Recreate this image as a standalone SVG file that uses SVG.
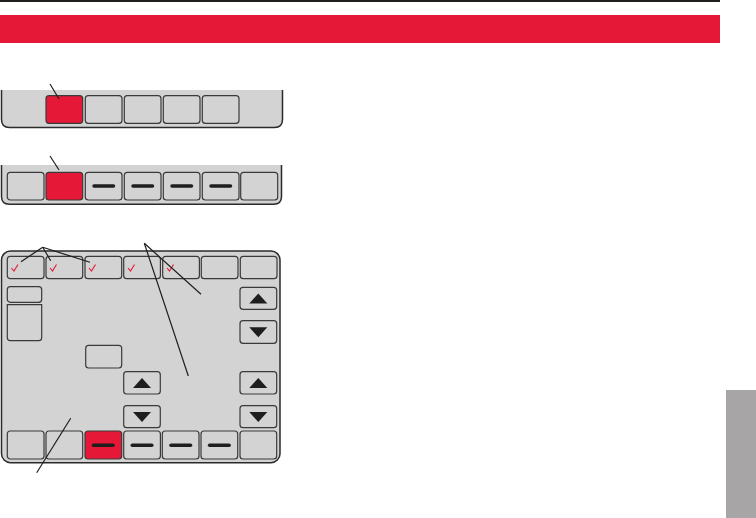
<svg xmlns="http://www.w3.org/2000/svg" width="756" height="518" viewBox="0 0 756 518">
<defs>
<style>
.panel{fill:#d3d3d3;stroke:#2b2b2b;stroke-width:1.5}
.btn{fill:#d3d3d3;stroke:#3a3a3a;stroke-width:1.2}
.red{fill:#e51937;stroke:#3a3a3a;stroke-width:1.2}
.dash{stroke:#1e1e1e;stroke-width:3.5;stroke-linecap:round}
.chk{fill:none;stroke:#e51937;stroke-width:1.1}
.tri{fill:#1e1e1e}
.lead{stroke:#1e1e1e;stroke-width:1.2;fill:none}
</style>
<path id="up" d="M-9,5 L9,5 L0,-5 Z"/>
<path id="dn" d="M-9,-5 L9,-5 L0,5 Z"/>
<path id="ck" d="M-2.5,0.5 L0,3.5 L4,-3"/>
</defs>
<rect x="0" y="0" width="720" height="2" fill="#1e1e1e"/>
<rect x="0" y="15" width="720" height="28" fill="#e51937"/>
<rect x="726" y="390" width="30" height="128" fill="#a7a5a5"/>

<g id="panel1">
<path class="panel" d="M1.5,90 V119.5 Q1.5,127.5 9.5,127.5 H274.5 Q282.5,127.5 282.5,119.5 V90"/>
<rect class="red" x="46" y="95.7" width="36.7" height="27.6" rx="3"/>
<rect class="btn" x="85.3" y="95.7" width="36.7" height="27.6" rx="3"/>
<rect class="btn" x="124.3" y="95.7" width="36.7" height="27.6" rx="3"/>
<rect class="btn" x="163.3" y="95.7" width="36.7" height="27.6" rx="3"/>
<rect class="btn" x="202.3" y="95.7" width="36.7" height="27.6" rx="3"/>
</g>

<g id="panel2">
<path class="panel" d="M1.5,165 V196.5 Q1.5,204.3 9.5,204.3 H273.5 Q281.5,204.3 281.5,196.5 V165"/>
<rect class="btn" x="7.3" y="172.3" width="36.7" height="27.7" rx="3"/>
<rect class="red" x="46" y="172.3" width="36.7" height="27.7" rx="3"/>
<rect class="btn" x="85.3" y="172.3" width="36.7" height="27.7" rx="3"/>
<rect class="btn" x="124.3" y="172.3" width="36.7" height="27.7" rx="3"/>
<rect class="btn" x="163.3" y="172.3" width="36.7" height="27.7" rx="3"/>
<rect class="btn" x="202.3" y="172.3" width="36.7" height="27.7" rx="3"/>
<rect class="btn" x="240.7" y="172.3" width="37" height="27.7" rx="3"/>
<line class="dash" x1="94" y1="186" x2="113.5" y2="186"/>
<line class="dash" x1="133" y1="186" x2="152.5" y2="186"/>
<line class="dash" x1="172" y1="186" x2="191.5" y2="186"/>
<line class="dash" x1="211" y1="186" x2="230.5" y2="186"/>
</g>

<g id="panel3">
<rect class="panel" x="1.5" y="251" width="278.5" height="211.7" rx="9"/>
<rect class="btn" x="7.3" y="256.3" width="36.7" height="22.4" rx="3"/>
<rect class="btn" x="46" y="256.3" width="36.7" height="22.4" rx="3"/>
<rect class="btn" x="85" y="256.3" width="36.7" height="22.4" rx="3"/>
<rect class="btn" x="123.7" y="256.3" width="36.7" height="22.4" rx="3"/>
<rect class="btn" x="162.7" y="256.3" width="36.7" height="22.4" rx="3"/>
<rect class="btn" x="201.3" y="256.3" width="36.7" height="22.4" rx="3"/>
<rect class="btn" x="240.3" y="256.3" width="36.7" height="22.4" rx="3"/>
<use href="#ck" class="chk" x="14" y="267.5"/>
<use href="#ck" class="chk" x="52.5" y="267.5"/>
<use href="#ck" class="chk" x="91.5" y="267.5"/>
<use href="#ck" class="chk" x="130.5" y="267.5"/>
<use href="#ck" class="chk" x="169.5" y="267.5"/>
<rect class="btn" x="7.3" y="286.7" width="34.4" height="15.6" rx="3"/>
<path class="btn" d="M7.3,304.7 H41.7 V337.7 Q41.7,340.7 38.7,340.7 H10.3 Q7.3,340.7 7.3,337.7 Z"/>
<rect class="btn" x="85.7" y="345.3" width="36" height="22.7" rx="3"/>
<rect class="btn" x="240" y="287.3" width="36.7" height="22" rx="3"/>
<use href="#up" class="tri" x="258.3" y="298.5"/>
<rect class="btn" x="240" y="320.7" width="36.7" height="22.6" rx="3"/>
<use href="#dn" class="tri" x="258.3" y="332.2"/>
<rect class="btn" x="123.7" y="371.7" width="36.6" height="22.3" rx="3"/>
<use href="#up" class="tri" x="142" y="383"/>
<rect class="btn" x="123.7" y="405.7" width="36.6" height="22" rx="3"/>
<use href="#dn" class="tri" x="142" y="417"/>
<rect class="btn" x="240" y="371.7" width="36.7" height="22.3" rx="3"/>
<use href="#up" class="tri" x="258.3" y="383"/>
<rect class="btn" x="240" y="405.7" width="36.7" height="22" rx="3"/>
<use href="#dn" class="tri" x="258.3" y="417"/>
<rect class="btn" x="7.3" y="431" width="36.7" height="28" rx="3"/>
<rect class="btn" x="46" y="431" width="36.7" height="28" rx="3"/>
<rect class="red" x="85" y="431" width="36.7" height="28" rx="3"/>
<rect class="btn" x="123.7" y="431" width="36.7" height="28" rx="3"/>
<rect class="btn" x="162.3" y="431" width="36.7" height="28" rx="3"/>
<rect class="btn" x="201" y="431" width="36.7" height="28" rx="3"/>
<rect class="btn" x="240" y="431" width="36.7" height="28" rx="3"/>
<line class="dash" x1="93.5" y1="445.3" x2="113" y2="445.3"/>
<line class="dash" x1="132.3" y1="445.3" x2="151.8" y2="445.3"/>
<line class="dash" x1="171" y1="445.3" x2="190.5" y2="445.3"/>
<line class="dash" x1="209.6" y1="445.3" x2="229.1" y2="445.3"/>
</g>

<g id="connectors">
<line class="lead" x1="50" y1="84" x2="59" y2="99"/>
<line class="lead" x1="50" y1="156" x2="59" y2="170"/>
<line class="lead" x1="42.7" y1="247.3" x2="21" y2="261.7"/>
<line class="lead" x1="42.7" y1="247.3" x2="50.7" y2="260.7"/>
<line class="lead" x1="42.7" y1="247.3" x2="90" y2="262.3"/>
<line class="lead" x1="144.3" y1="243.3" x2="201" y2="294.3"/>
<line class="lead" x1="144.3" y1="243.3" x2="188.3" y2="376"/>
<line class="lead" x1="70.7" y1="418.3" x2="36.7" y2="472.7"/>
</g>
</svg>
